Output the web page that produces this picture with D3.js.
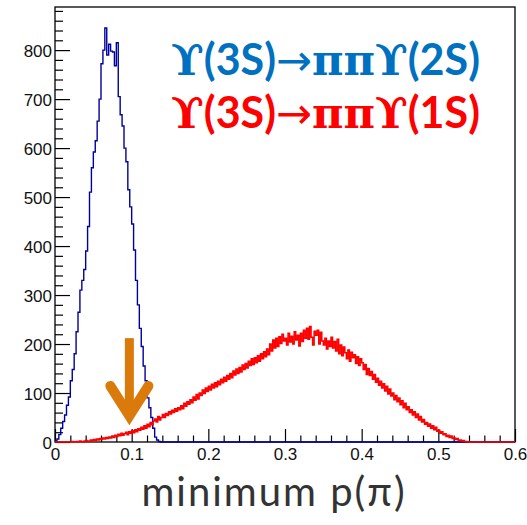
<!DOCTYPE html>
<html>
<head>
<meta charset="utf-8">
<script src="https://cdn.jsdelivr.net/npm/d3@7"></script>
<style>
  body { margin: 0; background: #fff; }
</style>
</head>
<body>
<div class="chart"></div>
<script>
// histogram contents
var xRange = [0, 0.6];
var yMax = 888;

// Y(3S) -> pi pi Y(2S), bins of 0.0025 starting at 0
var blueBinWidth = 0.0025;
var blueCounts = [
  2, 6, 15, 28, 42, 55, 75, 92, 125, 148,
  180, 225, 265, 310, 330, 352, 390, 440, 510, 560,
  592, 615, 655, 700, 772, 800, 845, 790, 812, 798,
  796, 768, 815, 705, 668, 645, 600, 572, 515, 480,
  445, 392, 330, 280, 232, 195, 155, 125, 90, 70,
  50, 28, 10, 4, 1, 0
];

// Y(3S) -> pi pi Y(1S), bins of 0.002 starting at 0 (one row = 0.01)
var redBinWidth = 0.002;
var redCounts = [
  0, 0, 0, 0, 0,   0, 0, 0, 0, 0,   0, 1, 0, 0, 1,   0, 2, 1, 0, 2,
  3, 1, 2, 4, 2,   5, 3, 6, 4, 7,   5, 8, 6, 9, 7,   10, 8, 12, 9, 14,
  11, 16, 13, 18, 14,   17, 20, 15, 21, 18,   23, 19, 25, 21, 27,   24, 30, 26, 33, 28,
  36, 31, 40, 35, 43,   47, 41, 52, 45, 50,   56, 50, 58, 54, 62,   57, 65, 60, 68, 63,
  70, 66, 74, 68, 79,   73, 82, 77, 86, 80,   92, 85, 97, 88, 100,   95, 106, 99, 110, 103,
  114, 106, 118, 110, 121,   113, 124, 117, 128, 121,   132, 124, 136, 128, 140,   131, 145, 137, 149, 140,
  152, 143, 157, 148, 160,   151, 165, 156, 170, 158,   172, 162, 176, 165, 180,   170, 184, 174, 190, 178,
  200, 186, 208, 192, 212,   195, 215, 201, 220, 206,   212, 198, 222, 204, 216,   200, 225, 208, 218, 196,
  222, 205, 228, 212, 232,   210, 236, 214, 198, 226,   218, 228, 200, 224, 206,   198, 212, 190, 206, 195,
  214, 192, 205, 186, 210,   180, 198, 176, 194, 182,   170, 188, 165, 183, 172,   178, 160, 174, 156, 170,
  162, 148, 158, 138, 150,   136, 144, 128, 138, 122,   130, 116, 124, 110, 119,   104, 114, 98, 108, 94,
  100, 86, 95, 82, 90,   76, 84, 70, 79, 66,   72, 60, 66, 55, 62,   50, 57, 45, 52, 41,
  46, 36, 40, 32, 37,   28, 33, 25, 30, 22,   24, 18, 21, 15, 17,   11, 14, 9, 12, 7,
  8, 5, 7, 3, 4,   2, 3, 1, 1, 0
];

var xTicks = [0, 0.1, 0.2, 0.3, 0.4, 0.5, 0.6];
var yTicks = [0, 100, 200, 300, 400, 500, 600, 700, 800];
var legendLines = [
  {parts: ["ϒ", "(3S)", "→", "ππ", "ϒ", "(2S)"], color: "#0070c0"},
  {parts: ["ϒ", "(3S)", "→", "ππ", "ϒ", "(1S)"], color: "#ff0000"}
];
var arrowAt = {x: 0.097, top: 212, tip: 45};

var svgWidth = 527;
var svgHeight = 525;
var margin = {top: 7, right: 12, bottom: 83, left: 55};
var width = svgWidth - margin.left - margin.right;
var height = svgHeight - margin.top - margin.bottom;

var svg = d3.select(".chart")
  .append("svg")
  .attr("width", svgWidth)
  .attr("height", svgHeight);

var chartGroup = svg.append("g")
  .attr("transform", `translate(${margin.left}, ${margin.top})`);

var xScale = d3.scaleLinear().domain(xRange).range([0, width]);
var yScale = d3.scaleLinear().domain([0, yMax]).range([height, 0]);

// ROOT style axes: ticks pointing into the frame
var bottomAxis = d3.axisBottom(xScale)
  .tickValues(d3.range(0, 0.6001, 0.02))
  .tickSize(0)
  .tickFormat("");
var xAxisG = chartGroup.append("g")
  .attr("transform", `translate(0, ${height})`)
  .call(bottomAxis);
xAxisG.selectAll(".tick line")
  .attr("y2", (d, i) => i % 5 === 0 ? -13 : -6.5);
xAxisG.selectAll(".tick")
  .filter((d, i) => i % 5 === 0)
  .append("text")
  .text(d => xTicks[Math.round(d * 10)]);

var leftAxis = d3.axisLeft(yScale)
  .tickValues(d3.range(0, 881, 20))
  .tickSize(0)
  .tickFormat("");
var yAxisG = chartGroup.append("g").call(leftAxis);
yAxisG.selectAll(".tick line")
  .attr("x2", d => d % 100 === 0 ? 15 : 8);
yAxisG.selectAll(".tick")
  .filter(d => yTicks.indexOf(d) >= 0)
  .append("text")
  .attr("x", -3)
  .attr("dy", "0.36em")
  .text(d => d);

chartGroup.selectAll(".domain").remove();
chartGroup.selectAll(".tick line").attr("stroke", "#000").attr("stroke-width", 1.2);
chartGroup.selectAll(".tick text")
  .attr("fill", "#111")
  .attr("font-family", "Liberation Sans, Arial, sans-serif")
  .attr("font-size", "17px");
xAxisG.selectAll(".tick text").attr("text-anchor", "middle").attr("y", 18);
yAxisG.selectAll(".tick text").attr("text-anchor", "end");

// frame
chartGroup.append("rect")
  .attr("x", 0)
  .attr("y", 0)
  .attr("width", width)
  .attr("height", height)
  .attr("fill", "none")
  .attr("stroke", "#000")
  .attr("stroke-width", 1.3);

// histograms as steps
function histPoints(counts, bw) {
  var pts = counts.map((c, i) => ({x: i * bw, y: c}));
  pts.push({x: counts.length * bw, y: 0});
  pts.push({x: xRange[1], y: 0});
  return pts;
}
var stepLine = d3.line()
  .x(d => xScale(d.x))
  .y(d => yScale(d.y))
  .curve(d3.curveStepAfter);

chartGroup.append("path")
  .datum(histPoints(blueCounts, blueBinWidth))
  .attr("d", stepLine)
  .attr("fill", "none")
  .attr("stroke", "#00009c")
  .attr("stroke-width", 1.4);

chartGroup.append("path")
  .datum(histPoints(redCounts, redBinWidth))
  .attr("d", stepLine)
  .attr("fill", "none")
  .attr("stroke", "#ff0000")
  .attr("stroke-width", 1.5);

// orange arrow pointing at the cut
var ax = xScale(arrowAt.x);
var tipY = yScale(arrowAt.tip);
var arrowG = chartGroup.append("g")
  .attr("stroke", "#d97a0a")
  .attr("fill", "none");
arrowG.append("line")
  .attr("x1", ax).attr("x2", ax)
  .attr("y1", yScale(arrowAt.top))
  .attr("y2", tipY - 6)
  .attr("stroke-width", 9);
arrowG.append("path")
  .attr("d", `M${ax - 19},${tipY - 34} L${ax},${tipY - 4} L${ax + 19},${tipY - 34}`)
  .attr("stroke-width", 10)
  .attr("stroke-linecap", "round")
  .attr("stroke-linejoin", "miter");

// legend text
var serifParts = ["ϒ", "ππ"];
legendLines.forEach(function (line, k) {
  var t = svg.append("text")
    .attr("x", 171)
    .attr("y", 75 + k * 53)
    .attr("fill", line.color)
    .attr("font-size", "43px");
  line.parts.forEach(function (p) {
    var serif = serifParts.indexOf(p) >= 0;
    t.append("tspan")
      .attr("font-family", serif ? "DejaVu Serif, serif" : (p === "→" ? "DejaVu Sans, sans-serif" : "Lato, sans-serif"))
      .attr("font-weight", p === "→" ? "normal" : "bold")
      .text(p);
  });
});

// axis title
svg.append("text")
  .attr("x", 274)
  .attr("y", 506)
  .attr("text-anchor", "middle")
  .attr("fill", "#333")
  .attr("font-family", "Lato, sans-serif")
  .attr("font-size", "40px")
  .attr("letter-spacing", "2px")
  .text("minimum p(π)");
</script>
</body>
</html>
